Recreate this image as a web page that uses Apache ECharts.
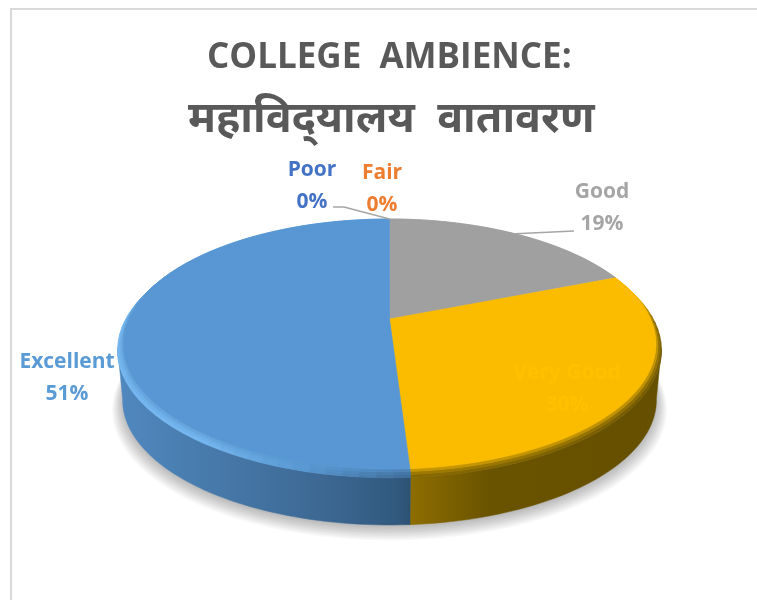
<!DOCTYPE html>
<html><head><meta charset="utf-8">
<style>html,body{margin:0;padding:0;background:#fff}#c{width:757px;height:600px}</style>
<script src="https://cdn.jsdelivr.net/npm/echarts@6/dist/echarts.min.js"></script>
</head><body><div id="c"></div>
<script>
const categories = ['Poor','Fair','Good','Very Good','Excellent'];
const values = [0,0,19,30,51];
const titleLines = ['COLLEGE  AMBIENCE:','महाविद्\u200Cयालय  वातावरण'];

const faceColors = ['#4472C4','#ED7D31','#A0A0A0','#FBBC00','#5897D3'];
const labelColors = ['#4472C4','#ED7D31','#A5A5A5','#FFC000','#5B9BD5'];
const labelCenters = [[312,186],[382,189],[602,208],[567,389],[67,378]];
const font = '"Open Sans","Noto Sans",sans-serif';

// perspective disc
const P = {cx:389.5, cy:319, bx:261, by:120, c:0.2, depth:56, floorBx:261.5, wallFrom:101, wallTo:259};
function project(deg, r, drop){
  const t = deg*Math.PI/180, u = r*Math.sin(t), v = r*Math.cos(t), d = 1+P.c*v;
  return [P.cx + P.bx*u/d, P.cy - P.by*v/d + drop];
}
function floor(deg, r, extra){
  const s = r||1, t = deg*Math.PI/180, u = s*Math.sin(t), v = s*Math.cos(t), d = 1+P.c*v;
  return [P.cx + P.floorBx*u/d, P.cy - P.by*v/d + P.depth + (extra||0)];
}
function steps(a0,a1,size){
  const n = Math.max(2,Math.ceil(Math.abs(a1-a0)/size)), out=[];
  for(let i=0;i<=n;i++) out.push(a0+(a1-a0)*i/n);
  return out;
}
const arc = (a0,a1,r,drop)=>steps(a0,a1,1.5).map(a=>project(a,r,drop));
const floorArc = (a0,a1)=>steps(a0,a1,1.5).map(a=>floor(a));
const total = values.reduce((a,b)=>a+b,0);
const starts = []; values.reduce((acc,v,i)=>{starts[i]=acc;return acc+v/total*360;},0);
const span = i => values[i]/total*360;
const hGrad = (stops) => new echarts.graphic.LinearGradient(118,0,660,0,stops.map(s=>({offset:(s[0]-118)/542,color:s[1]})),true);
const wallFill = {
  4: hGrad([[118,'#5088BF'],[300,'#3F6C98'],[395,'#325A80'],[409,'#2D5273']]),
  3: hGrad([[409,'#8E6E00'],[490,'#6A5300'],[660,'#655000']]),
  2: '#6B6B6B'
};
// bevel: nested rings from the outer rim edge in to the flat face
const rimLevels = [[1.02,5],[1.0135,3.3],[1.0065,1.7],[1,0]];
const rimWeights = [1,0.8,0.45,0.18];
const rimTargets = {
  4: [[176,[60,106,150]],[195,[88,152,210]],[215,[116,182,240]],[270,[116,182,240]],[300,[106,170,230]],[325,[88,151,211]],[361,[88,151,211]]],
  3: [[68,[251,188,0]],[76,[251,188,0]],[90,[125,98,0]],[125,[118,92,0]],[177,[135,105,0]]],
  2: [[0,[160,160,160]],[70,[160,160,160]]]
};
function hexRgb(h){return [1,3,5].map(p=>parseInt(h.substr(p,2),16));}
function rimColor(i,a,w){
  const st=rimTargets[i]; let c=st[st.length-1][1];
  for(let s=0;s<st.length-1;s++){
    if(a>=st[s][0]&&a<=st[s+1][0]){
      const f=(a-st[s][0])/(st[s+1][0]-st[s][0]);
      c=st[s][1].map((x,j)=>x+(st[s+1][1][j]-x)*f); break;
    }
  }
  const base=hexRgb(faceColors[i]);
  return 'rgb('+base.map((x,j)=>Math.round(x+(c[j]-x)*w)).join(',')+')';
}
const seriesData = categories.map((n,i)=>({name:n,value:values[i]}));

// soft ground shadow: stacked translucent outlines, widest first
function shadowItem(){
  const kids=[];
  for(let k=9;k>=0;k--){
    kids.push({type:'polygon',shape:{points:steps(0,360,3).map(a=>floor(a,1+k*0.0042,2+k*0.7))},
      style:{fill:'rgba(0,0,0,0.026)'}});
  }
  return {type:'group',children:kids};
}
function wallItem(p){
  const i=p.dataIndex; if(!values[i]) return {type:'group',children:[]};
  const a0=Math.max(starts[i],P.wallFrom),a1=Math.min(starts[i]+span(i),P.wallTo);
  if(a1<=a0) return {type:'group',children:[]};
  return {type:'polygon',shape:{points:arc(a0,a1,rimLevels[0][0],rimLevels[0][1]).concat(floorArc(a1,a0))},
    style:{fill:wallFill[i],stroke:wallFill[i],lineWidth:0.5}};
}
function rimItem(p){
  const i=p.dataIndex; if(!values[i]) return {type:'group',children:[]};
  const a0=starts[i],a1=a0+span(i),kids=[];
  const grid=steps(a0,a1,3);
  for(let k=0;k<rimLevels.length-1;k++){
    const o=rimLevels[k],n=rimLevels[k+1];
    for(let g=0;g<grid.length-1;g++){
      const x0=grid[g],x1=grid[g+1],col=rimColor(i,(x0+x1)/2,rimWeights[k]);
      kids.push({type:'polygon',shape:{points:[project(x0,o[0],o[1]),project(x1,o[0],o[1]),project(x1,n[0],n[1]),project(x0,n[0],n[1])]},
        style:{fill:col,stroke:col,lineWidth:0.7}});
    }
  }
  return {type:'group',children:kids};
}
function faceItem(p){
  const i=p.dataIndex; if(!values[i]) return {type:'group',children:[]};
  const a0=starts[i],a1=a0+span(i);
  return {type:'polygon',shape:{points:[project(0,0,0)].concat(arc(a0,a1,1,0))},
    style:{fill:faceColors[i],stroke:faceColors[i],lineWidth:0.6}};
}
function labelItem(p){
  const i=p.dataIndex, kids=[];
  kids.push({type:'text',style:{text:categories[i]+'\n'+values[i]+'%',x:labelCenters[i][0],y:labelCenters[i][1],
    align:'center',verticalAlign:'middle',fill:labelColors[i],font:'bold 21px '+font,lineHeight:32}});
  if(i===0){
    kids.push({type:'polyline',shape:{points:[[333,207],[344,207],project(starts[0],1,0)]},
      style:{fill:null,stroke:'#A6A6A6',lineWidth:1.5}});
  }
  if(i===2){
    kids.push({type:'polyline',shape:{points:[project(starts[2]+span(2)/2,1,0),[574,231]]},
      style:{fill:null,stroke:'#A6A6A6',lineWidth:1.5}});
  }
  return {type:'group',children:kids};
}
const chart = echarts.init(document.getElementById('c'),null,{renderer:'canvas'});
chart.setOption({
  animation:false,
  backgroundColor:'#fff',
  title:[
    {text:titleLines[0],left:207,top:41,padding:0,textStyle:{fontFamily:font,fontWeight:'bold',fontSize:35,color:'#595959'}},
    {text:titleLines[1],left:188,top:98,padding:0,textStyle:{fontFamily:'"Noto Sans","Open Sans",sans-serif',fontWeight:'bold',fontSize:43,color:'#595959'}}
  ],
  graphic:[{type:'rect',z:-1,shape:{x:11,y:9,width:800,height:700},style:{fill:'none',stroke:'#D9D9D9',lineWidth:2}}],
  series:[
    {type:'custom',name:'shadow',coordinateSystem:'none',z:1,silent:true,data:[0],renderItem:shadowItem},
    {type:'custom',name:'wall',coordinateSystem:'none',z:2,silent:true,data:seriesData,renderItem:wallItem},
    {type:'custom',name:'rim',coordinateSystem:'none',z:3,silent:true,data:seriesData,renderItem:rimItem},
    {type:'custom',name:'College ambience',coordinateSystem:'none',z:4,data:seriesData,renderItem:faceItem},
    {type:'custom',name:'labels',coordinateSystem:'none',z:5,silent:true,data:seriesData,renderItem:labelItem}
  ]
});
</script></body></html>
